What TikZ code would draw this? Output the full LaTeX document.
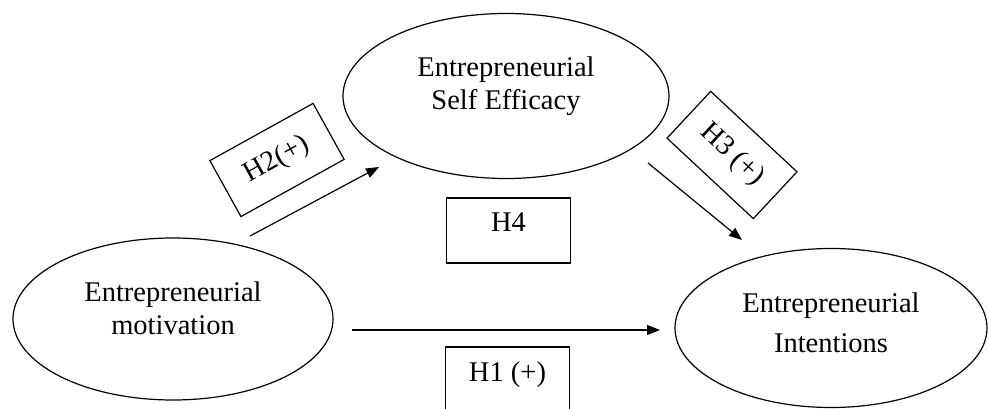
\documentclass[tikz,border=0pt]{standalone}
\usepackage{fontspec}
\setmainfont{Liberation Serif}
\usetikzlibrary{shapes.geometric,arrows.meta}
\begin{document}
\begin{tikzpicture}[x=1pt,y=1pt,
  every node/.style={font=\fontsize{28.5}{33}\selectfont},
  every label/.style={align=center,font=\fontsize{28.5}{33}\selectfont},
  oval/.style={draw, ellipse, line width=1.2pt, inner sep=0pt},
  hbox/.style={draw, rectangle, line width=1.2pt, inner sep=0pt, text depth=16pt, minimum width=124pt, minimum height=65pt},
  tbox/.style={draw, rectangle, line width=1.2pt, inner sep=0pt, minimum width=118pt, minimum height=64pt},
  arr/.style={line width=1.2pt, -{Triangle[length=13pt,width=10pt]}}]
\useasboundingbox (0,0) rectangle (989,-409);
% ellipses
\node[oval, minimum width=326pt, minimum height=165pt,
  label={[yshift=10pt]center:{Entrepreneurial\\Self Efficacy}}] (se) at (506,-96) {};
\node[oval, minimum width=320pt, minimum height=162pt,
  label={[yshift=11pt]center:{Entrepreneurial\\motivation}}] (mot) at (173,-319) {};
\node[oval, minimum width=312pt, minimum height=159pt,
  label={[yshift=5pt]center:{Entrepreneurial\\[7pt]Intentions}}] (int) at (831,-328) {};
% hypothesis boxes
\node[hbox] (h4) at (508.5,-230.5) {H4};
\node[hbox] (h1) at (507.5,-379.5) {H1 (+)};
\node[tbox, rotate=29] (h2) at (277,-160) {H2(+)};
\node[tbox, rotate=-43] (h3) at (732,-155) {H3 (+)};
% arrows
\coordinate (h2s) at (250,-236);
\coordinate (h2e) at (379,-167);
\coordinate (h3s) at (648,-163);
\coordinate (h3e) at (742,-240);
\coordinate (h1s) at (352,-330);
\coordinate (h1e) at (660,-330);
\draw[arr] (h2s) -- (h2e);
\draw[arr] (h3s) -- (h3e);
\draw[arr] (h1s) -- (h1e);
\end{tikzpicture}
\end{document}
